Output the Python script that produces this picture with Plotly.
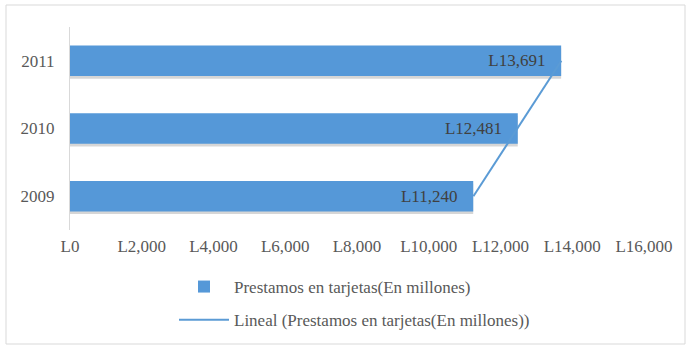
import numpy as np
import plotly.graph_objects as go

years = ["2009", "2010", "2011"]
values = [11240, 12481, 13691]
x_ticks = [0, 2000, 4000, 6000, 8000, 10000, 12000, 14000, 16000]
bar_name = "Prestamos en tarjetas(En millones)"
trend_name = "Lineal (Prestamos en tarjetas(En millones))"

# linear trendline (like Excel "Lineal")
idx = np.arange(len(values))
slope, intercept = np.polyfit(idx, values, 1)
trend = slope * idx + intercept

FONT = "Liberation Serif, Times New Roman, serif"
TXT = "#595959"

W, H = 688, 345
L, R, T, B = 70, 44, 27, 115
pw, ph = W - L - R, H - T - B
BW = 0.45

fig = go.Figure()
# soft drop shadow under the bars
fig.add_trace(go.Bar(
    y=years, x=values, orientation="h", showlegend=False, hoverinfo="skip",
    marker=dict(color="rgba(0,0,0,0.16)", line=dict(width=0)),
    width=BW, offset=-BW / 2 - 0.04,
))
fig.add_trace(go.Bar(
    y=years, x=values, orientation="h", name=bar_name,
    legendgroup="a",
    marker=dict(color="#5598d8", line=dict(width=0)),
    width=BW, offset=-BW / 2,
    text=["L{:,}\u00a0\u00a0\u00a0".format(v) for v in values],
    textposition="inside", insidetextanchor="end",
    textfont=dict(family=FONT, size=17, color="#404040"),
    cliponaxis=False,
))
fig.add_trace(go.Scatter(
    y=years, x=trend, mode="lines", name=trend_name,
    legendgroup="b",
    line=dict(color="#5b9bd5", width=2),
))

fig.update_layout(
    width=W, height=H,
    margin=dict(l=L, r=R, t=T, b=B, autoexpand=False),
    paper_bgcolor="white", plot_bgcolor="white",
    font=dict(family=FONT, size=17, color=TXT),
    showlegend=True,
    barmode="overlay",
    legend=dict(orientation="v", x=(174 - L) / pw, xanchor="left",
                y=(T + ph - 269) / ph, yanchor="top",
                font=dict(family=FONT, size=17, color=TXT),
                itemwidth=50, traceorder="grouped", tracegroupgap=8,
                bgcolor="rgba(0,0,0,0)"),
)
fig.update_xaxes(range=[0, 16000], tickvals=x_ticks,
                 ticktext=["L{:,}".format(v) for v in x_ticks],
                 showgrid=False, zeroline=False, showline=False,
                 ticks="", ticklabelstandoff=4,
                 tickfont=dict(family=FONT, size=17, color=TXT))
fig.update_yaxes(type="category", categoryorder="array", categoryarray=years,
                 range=[-0.5, 2.5], showgrid=False, zeroline=False,
                 showline=True, linecolor="#d9d9d9", linewidth=1,
                 ticks="", ticklabelstandoff=11,
                 tickfont=dict(family=FONT, size=17, color=TXT))

# chart border
fig.add_shape(type="rect", xref="paper", yref="paper",
              x0=(6 - L) / pw, x1=(685 - L) / pw,
              y0=(T + ph - 344) / ph, y1=(T + ph - 5) / ph,
              line=dict(color="#d9d9d9", width=1), fillcolor="rgba(0,0,0,0)",
              layer="below")

fig.write_html("out.html", config={"displayModeBar": False},
               post_script="document.body.style.margin='0';document.body.style.overflow='hidden';")
